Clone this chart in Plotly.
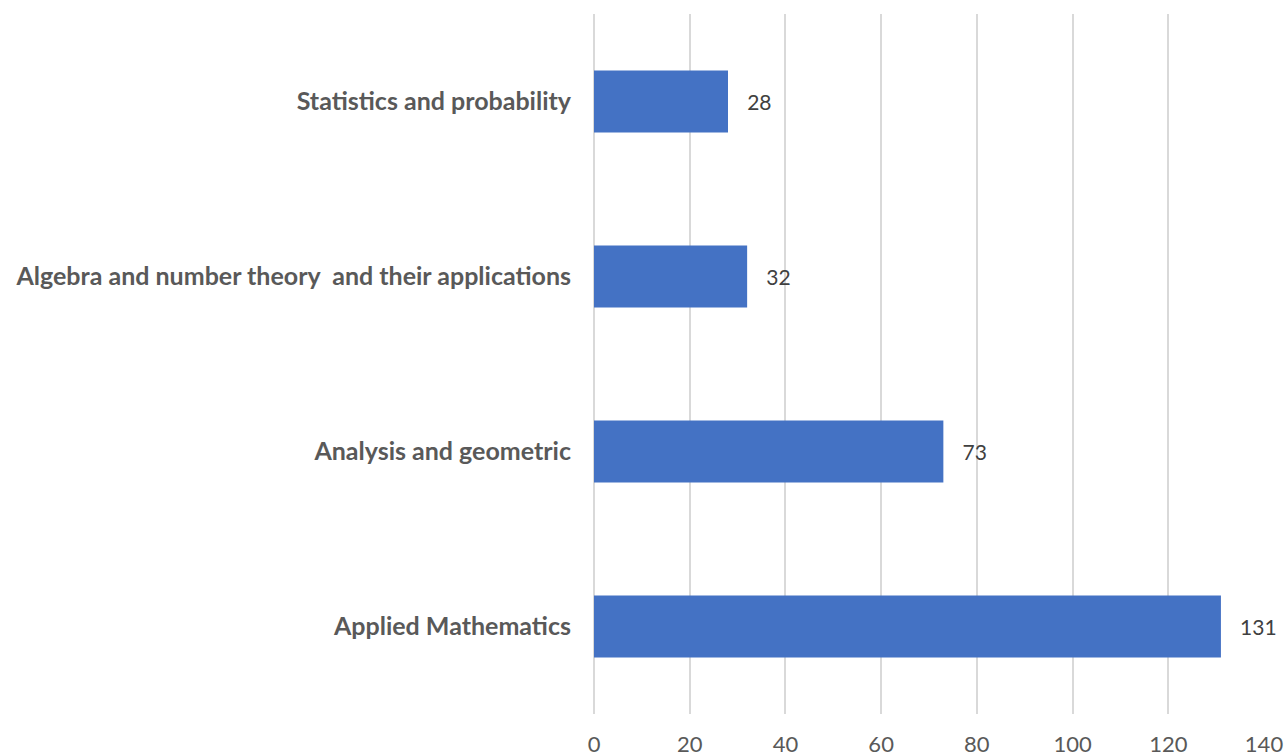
import plotly.graph_objects as go

categories = ["Applied Mathematics", "Analysis and geometric",
              "Algebra and number theory  and their applications",
              "Statistics and probability"]
values = [131, 73, 32, 28]
x_ticks = [0, 20, 40, 60, 80, 100, 120, 140]

fig = go.Figure(go.Bar(
    y=categories, x=values, orientation="h",
    marker=dict(color="#4472C4", line=dict(width=0)),
    text=[f"   {v}" for v in values], textposition="outside",
    textfont=dict(family="Lato", size=21, color="#404040"),
    cliponaxis=False,
))

fig.update_layout(
    width=1285, height=756,
    margin=dict(l=594, r=21, t=14, b=42),
    plot_bgcolor="white", paper_bgcolor="white",
    bargap=0.646, showlegend=False,
    xaxis=dict(range=[0, 140], tickvals=x_ticks, showgrid=True,
               gridcolor="#D9D9D9", gridwidth=1.5,
               zeroline=True, zerolinecolor="#D9D9D9", zerolinewidth=1.5,
               showline=False, ticks="", ticklabelstandoff=15, automargin=False,
               tickfont=dict(family="Lato", size=22, color="#595959")),
    yaxis=dict(categoryorder="array", categoryarray=categories,
               showgrid=False, zeroline=False, showline=False, ticks="",
               ticklabelstandoff=22, automargin=False,
               tickfont=dict(family="Lato", size=25, color="#595959", weight="bold")),
)

fig.write_html("out.html", config={"displayModeBar": False},
               post_script="document.body.style.margin='0';document.body.style.overflow='hidden';")
